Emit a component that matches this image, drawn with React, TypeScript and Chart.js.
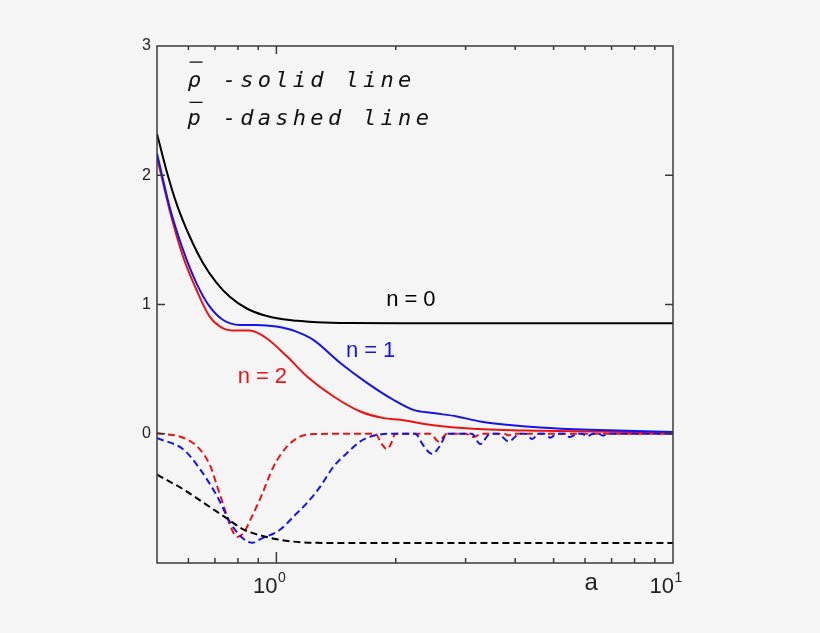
import React, { useEffect, useRef } from "react";
import { Chart, registerables } from "chart.js";

Chart.register(...registerables);

// ---- data (a on log axis, value on linear axis) ----
const blackSolidA = [0.5, 0.528, 0.56, 0.605, 0.654, 0.706, 0.763, 0.84, 0.926, 1.04, 1.123, 1.266, 1.535, 2.2, 10];
const blackSolidV = [2.322, 2.039, 1.781, 1.524, 1.318, 1.17, 1.06, 0.971, 0.919, 0.886, 0.875, 0.862, 0.856, 0.855, 0.855];

const blueSolidA = [0.5, 0.538, 0.582, 0.629, 0.679, 0.734, 0.808, 0.89, 1.0, 1.123, 1.239, 1.449, 1.692, 1.971, 2.214, 2.486, 2.852, 3.265, 3.812, 4.624, 6.18, 10];
const blueSolidV = [2.168, 1.755, 1.421, 1.164, 0.983, 0.88, 0.842, 0.842, 0.829, 0.79, 0.726, 0.548, 0.394, 0.263, 0.185, 0.16, 0.134, 0.095, 0.07, 0.049, 0.031, 0.013];

const redSolidA = [0.5, 0.538, 0.582, 0.629, 0.679, 0.734, 0.793, 0.856, 0.944, 1.064, 1.195, 1.394, 1.628, 1.864, 2.053, 2.486, 3.134, 4.624, 10];
const redSolidV = [2.141, 1.73, 1.369, 1.112, 0.906, 0.816, 0.798, 0.798, 0.739, 0.597, 0.442, 0.288, 0.172, 0.121, 0.108, 0.066, 0.039, 0.023, 0.01];

const blackDashA = [0.5, 0.584, 0.656, 0.737, 0.827, 0.929, 1.085, 1.266, 1.535, 10];
const blackDashV = [-0.317, -0.432, -0.535, -0.639, -0.741, -0.793, -0.832, -0.844, -0.846, -0.846];

const redDashA = [0.5, 0.584, 0.643, 0.682, 0.709, 0.737, 0.766, 0.796, 0.827, 0.86, 0.911, 0.984, 1.064, 1.149, 1.242, 1.535, 1.775, 1.84, 1.901, 1.95, 1.994, 2.443, 2.564, 2.692, 3.0, 3.14, 3.3, 3.75, 3.85, 3.97, 10];
const redDashV = [0.005, -0.033, -0.124, -0.253, -0.407, -0.561, -0.716, -0.798, -0.767, -0.664, -0.5, -0.253, -0.098, -0.021, -0.002, 0, 0, -0.075, -0.12, -0.07, 0, 0, -0.06, 0, 0, -0.025, 0, 0, -0.012, 0, 0];

const blueDashA = [0.5, 0.584, 0.643, 0.709, 0.766, 0.812, 0.869, 0.911, 1.023, 1.106, 1.195, 1.291, 1.394, 1.507, 1.628, 1.758, 1.975, 2.239, 2.346, 2.467, 2.59, 2.692, 3.11, 3.265, 3.46, 3.62, 3.85, 4.11, 4.25, 4.41, 4.6, 4.75, 4.9, 5.1, 5.3, 5.5, 5.75, 5.9, 6.06, 6.3, 6.5, 6.66, 6.9, 10];
const blueDashV = [-0.033, -0.124, -0.278, -0.484, -0.69, -0.793, -0.844, -0.815, -0.741, -0.639, -0.535, -0.407, -0.253, -0.149, -0.059, -0.015, 0, 0, -0.09, -0.155, -0.09, 0, 0, -0.08, 0, 0, -0.06, 0, 0, -0.04, 0, 0, -0.03, 0, 0, -0.025, 0, 0, -0.02, 0, 0, -0.015, 0, 0];

// ---- axes / ticks ----
const xMin = 0.5;
const xMax = 10;
const yMin = -1;
const yMax = 3;
const yTickValues = [0, 1, 2, 3];
const yTickLabels = ["0", "1", "2", "3"];
const xMajorTicks = [1, 10];
const xMajorExponents = ["0", "1"];
const xMinorTicks = [0.6, 0.7, 0.8, 0.9, 2, 3, 4, 5, 6, 7, 8, 9];
const xAxisTitle = "a";
const xAxisTitleAt = 6.22;

// ---- annotations ----
const legendSymbols = ["ρ", "p"];
const legendTexts = [" -solid line", " -dashed line"];
const legendAt = [
  { a: 0.597, v: 2.682 },
  { a: 0.597, v: 2.386 },
];
const curveLabels = ["n=0", "n=1", "n=2"];
const curveLabelColors = ["#000000", "rgb(20,20,235)", "rgb(235,20,20)"];
const curveLabelAt = [
  { a: 1.892, v: 0.988 },
  { a: 1.498, v: 0.592 },
  { a: 0.799, v: 0.396 },
];

const BLACK = "#000000";
const BLUE = "rgb(20,20,235)";
const RED = "rgb(235,20,20)";

function pts(xs: number[], ys: number[]) {
  return xs.map((x, i) => ({ x, y: ys[i] }));
}

const overlay = {
  id: "overlay",
  beforeDraw(chart: any) {
    const { ctx, width, height } = chart;
    ctx.save();
    ctx.fillStyle = "#f5f5f5";
    ctx.fillRect(0, 0, width, height);
    ctx.restore();
  },
  afterDraw(chart: any) {
    const { ctx, chartArea: ca, scales } = chart;
    const xs = scales.x;
    const ys = scales.y;
    ctx.save();
    // frame
    ctx.strokeStyle = "#3a3a3a";
    ctx.lineWidth = 1.5;
    ctx.strokeRect(ca.left, ca.top, ca.right - ca.left, ca.bottom - ca.top);
    // y ticks (inward, both sides)
    ctx.beginPath();
    yTickValues.forEach((v) => {
      if (v <= yMin || v >= yMax) return;
      const y = ys.getPixelForValue(v);
      ctx.moveTo(ca.left, y);
      ctx.lineTo(ca.left + 8, y);
      ctx.moveTo(ca.right, y);
      ctx.lineTo(ca.right - 8, y);
    });
    // x ticks (inward, top & bottom)
    xMajorTicks.forEach((v) => {
      if (v <= xMin || v >= xMax) return;
      const x = xs.getPixelForValue(v);
      ctx.moveTo(x, ca.bottom);
      ctx.lineTo(x, ca.bottom - 11);
      ctx.moveTo(x, ca.top);
      ctx.lineTo(x, ca.top + 8);
    });
    xMinorTicks.forEach((v) => {
      const x = xs.getPixelForValue(v);
      ctx.moveTo(x, ca.bottom);
      ctx.lineTo(x, ca.bottom - 5);
      ctx.moveTo(x, ca.top);
      ctx.lineTo(x, ca.top + 4);
    });
    ctx.stroke();

    // y tick labels
    ctx.fillStyle = "#222";
    ctx.font = '16px "Liberation Sans", Arial, sans-serif';
    ctx.textAlign = "right";
    ctx.textBaseline = "middle";
    yTickValues.forEach((v, i) => {
      ctx.fillText(yTickLabels[i], ca.left - 6, ys.getPixelForValue(v));
    });

    // x tick labels 10^n
    ctx.textBaseline = "alphabetic";
    xMajorTicks.forEach((v, i) => {
      const x = xs.getPixelForValue(v);
      ctx.font = '22px "Liberation Sans", Arial, sans-serif';
      ctx.textAlign = "right";
      ctx.fillText("10", x + 1, ca.bottom + 29.5);
      ctx.font = '14px "Liberation Sans", Arial, sans-serif';
      ctx.textAlign = "left";
      ctx.fillText(xMajorExponents[i], x + 1.5, ca.bottom + 19);
    });
    // axis title
    ctx.font = '24px "Liberation Sans", Arial, sans-serif';
    ctx.textAlign = "center";
    ctx.fillText(xAxisTitle, xs.getPixelForValue(xAxisTitleAt), ca.bottom + 27);

    // legend text
    ctx.fillStyle = "#111";
    ctx.textAlign = "left";
    ctx.font = 'oblique 22px "DejaVu Sans Mono", monospace';
    (ctx as any).letterSpacing = "4.3px";
    legendTexts.forEach((t, i) => {
      const x = xs.getPixelForValue(legendAt[i].a);
      const y = ys.getPixelForValue(legendAt[i].v);
      ctx.fillText(legendSymbols[i] + t, x, y);
      // bar over symbol
      ctx.beginPath();
      ctx.strokeStyle = "#111";
      ctx.lineWidth = 1.3;
      const barY = y - (i === 0 ? 25 : 23);
      ctx.moveTo(x + 2, barY);
      ctx.lineTo(x + 15, barY);
      ctx.stroke();
    });

    // curve labels
    ctx.font = '22px "Liberation Sans", Arial, sans-serif';
    (ctx as any).letterSpacing = "6px";
    curveLabels.forEach((t, i) => {
      ctx.fillStyle = curveLabelColors[i];
      ctx.fillText(t, xs.getPixelForValue(curveLabelAt[i].a), ys.getPixelForValue(curveLabelAt[i].v));
    });
    (ctx as any).letterSpacing = "0px";
    ctx.restore();
  },
};

export default function App() {
  const ref = useRef<HTMLCanvasElement | null>(null);
  useEffect(() => {
    document.body.style.margin = "0";
    document.body.style.background = "#f5f5f5";
    const canvas = ref.current;
    if (!canvas) return;
    const line = (data: any, color: string, dash: number[]) => ({
      data,
      borderColor: color,
      borderWidth: 2,
      pointRadius: 0,
      showLine: true,
      fill: false,
      cubicInterpolationMode: "monotone" as const,
      borderDash: dash,
    });
    const chart = new Chart(canvas, {
      type: "scatter",
      data: {
        datasets: [
          line(pts(blackDashA, blackDashV), BLACK, [7, 4]),
          line(pts(blueDashA, blueDashV), BLUE, [7, 4]),
          line(pts(redDashA, redDashV), RED, [7, 4]),
          line(pts(blackSolidA, blackSolidV), BLACK, []),
          line(pts(blueSolidA, blueSolidV), BLUE, []),
          line(pts(redSolidA, redSolidV), RED, []),
        ] as any,
      },
      options: {
        animation: false,
        responsive: false,
        events: [],
        layout: { padding: { left: 157, right: 147, top: 46, bottom: 70 } },
        plugins: { legend: { display: false }, tooltip: { enabled: false } },
        scales: {
          x: { type: "logarithmic", min: xMin, max: xMax, display: false },
          y: { type: "linear", min: yMin, max: yMax, display: false },
        },
      },
      plugins: [overlay],
    });
    return () => chart.destroy();
  }, []);
  return (
    <div style={{ width: 820, height: 633 }}>
      <canvas ref={ref} width={820} height={633} style={{ display: "block" }} />
    </div>
  );
}
